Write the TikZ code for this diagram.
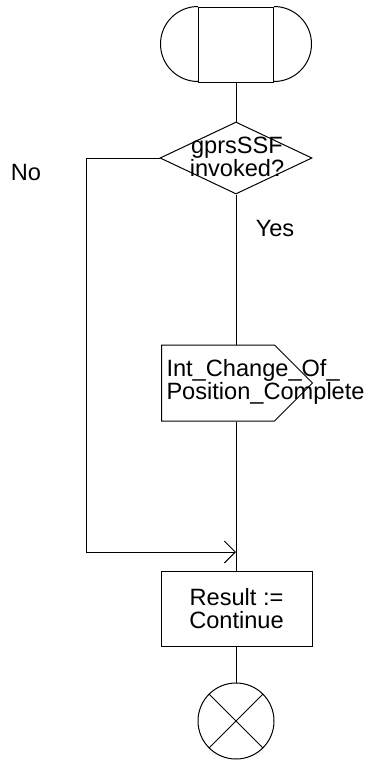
\documentclass[tikz,border=0pt]{standalone}
\usepackage{fontspec}
\setmainfont{Liberation Sans}
\usetikzlibrary{arrows.meta,shapes.geometric,shapes.symbols}
\begin{document}
\begin{tikzpicture}[x=0.5pt,y=-0.5pt,line width=0.5pt,font=\fontsize{11.8}{11.5}\selectfont,
 >={Straight Barb[length=5.5pt,width=11pt]},
 startbox/.style={draw,minimum width=37.5pt,minimum height=37.5pt,inner sep=0pt},
 decision/.style={draw,diamond,minimum width=76pt,minimum height=36pt,inner sep=0pt},
 sendsig/.style={draw,signal,signal to=east,signal pointer angle=90,minimum width=75.5pt,minimum height=38pt,inner sep=0pt},
 task/.style={draw,minimum width=75.5pt,minimum height=37.5pt,align=center,inner sep=0pt},
 stopsym/.style={draw,circle,minimum size=38pt,inner sep=0pt},
 txt/.style={inner sep=0pt,align=center}]
\useasboundingbox (0,0) rectangle (366,766);
% start
\node[startbox] (start) at (236,44.5) {};
\draw (start.north west) arc[start angle=90,end angle=270,radius=18.75pt];
\draw (start.north east) arc[start angle=90,end angle=-90,radius=18.75pt];
% decision
\node[decision] (dec) at (236,158) {};
\node[txt] (dectext) at (237,157) {gprsSSF\\invoked?};
\node[txt] (no) at (26,172) {No};
\node[txt] (yes) at (275,228) {Yes};
% output
\node[sendsig,anchor=west] (sig) at (161,383) {};
\node[txt,anchor=west,align=left] (sigtext) at (166,381.5) {Int\_Change\_Of\_\\Position\_Complete};
% task and stop
\node[task] (res) at (236.5,608.5) {Result :=\\Continue};
\node[stopsym] (stop) at (236,721) {};
\draw (stop.north west) -- (stop.south east);
\draw (stop.north east) -- (stop.south west);
\coordinate (merge) at (236,552);
\draw (start.south) -- (dec.north);
\draw (dec.south) -- (dec.south |- sig.north);
\draw (dec.south |- sig.south) -- (dec.south |- res.north);
\draw[->] (dec.west) -- (86,158) |- (merge);
\draw (res.south -| stop.north) -- (stop.north);
\end{tikzpicture}
\end{document}
